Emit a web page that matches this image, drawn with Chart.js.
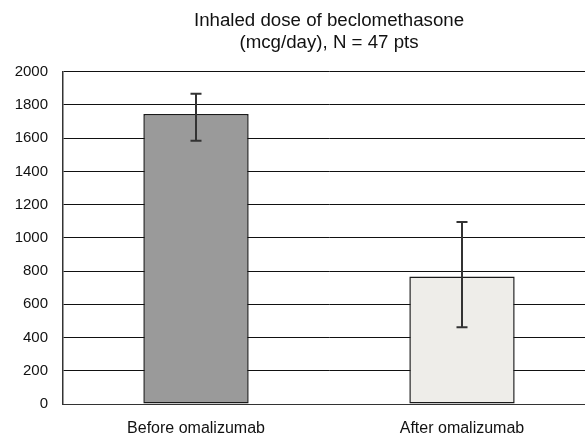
<!DOCTYPE html>
<html>
<head>
<meta charset="utf-8">
<script src="https://cdn.jsdelivr.net/npm/chart.js@4.4.1/dist/chart.umd.min.js"></script>
<style>
  html, body { margin: 0; padding: 0; background: #ffffff; overflow: hidden; }
  #wrap { width: 595px; height: 435px; position: relative; }
</style>
</head>
<body>
<div id="wrap"><canvas id="c"></canvas></div>
<script>
// ---- data ----
const categories = ['Before omalizumab', 'After omalizumab'];
const doseMean = [1745, 767];
const errHigh = [1867, 1095];
const errLow = [1584, 462];
const barColors = ['#9a9a9a', '#eeede9'];
const yTicks = [0, 200, 400, 600, 800, 1000, 1200, 1400, 1600, 1800, 2000];
const titleLines = ['Inhaled dose of beclomethasone', '(mcg/day), N = 47 pts'];

const FONT = "'Liberation Sans', Arial, Helvetica, sans-serif";

const errorBars = {
  id: 'errorBars',
  afterDatasetsDraw(chart) {
    const meta = chart.getDatasetMeta(0);
    const y = chart.scales.y;
    const ctx = chart.ctx;
    ctx.save();
    ctx.strokeStyle = '#333333';
    ctx.lineWidth = 2;
    meta.data.forEach((bar, i) => {
      const x = Math.round(bar.x);
      const yh = y.getPixelForValue(errHigh[i]);
      const yl = y.getPixelForValue(errLow[i]);
      const cap = 5.5;
      ctx.beginPath();
      ctx.moveTo(x, yh); ctx.lineTo(x, yl);
      ctx.moveTo(x - cap, yh); ctx.lineTo(x + cap, yh);
      ctx.moveTo(x - cap, yl); ctx.lineTo(x + cap, yl);
      ctx.stroke();
    });
    ctx.restore();
  }
};

new Chart(document.getElementById('c'), {
  type: 'bar',
  data: {
    labels: categories,
    datasets: [{
      data: doseMean,
      backgroundColor: barColors,
      borderColor: '#1a1a1a',
      borderWidth: 1.5,
      borderSkipped: false,
      barPercentage: 0.396,
      categoryPercentage: 1.0
    }]
  },
  options: {
    responsive: true,
    maintainAspectRatio: false,
    animation: false,
    layout: { padding: { left: 0, right: 0, top: 0, bottom: 0 } },
    plugins: {
      legend: { display: false },
      tooltip: { enabled: false },
      title: {
        display: true,
        text: titleLines,
        fullSize: false,
        color: '#111111',
        font: { family: FONT, size: 18.7, weight: 'normal', lineHeight: 1.17 },
        padding: { top: 10, bottom: 18 }
      }
    },
    scales: {
      x: {
        grid: { display: false },
        border: { display: true, color: '#333333', width: 1 },
        ticks: {
          color: '#111111',
          padding: 7,
          font: { family: FONT, size: 16 },
          maxRotation: 0
        },
        afterFit(scale) { scale.height = 31; }
      },
      y: {
        min: 0,
        max: 2000,
        afterBuildTicks(scale) { scale.ticks = yTicks.map(v => ({ value: v })); },
        grid: { color: '#111111', lineWidth: 1, drawTicks: false },
        border: { display: true, color: '#333333', width: 1.5 },
        ticks: {
          color: '#111111',
          padding: 15,
          font: { family: FONT, size: 15 },
          callback: (v) => String(v)
        },
        afterFit(scale) { scale.width = 63; }
      }
    }
  },
  plugins: [errorBars]
});
</script>
</body>
</html>
